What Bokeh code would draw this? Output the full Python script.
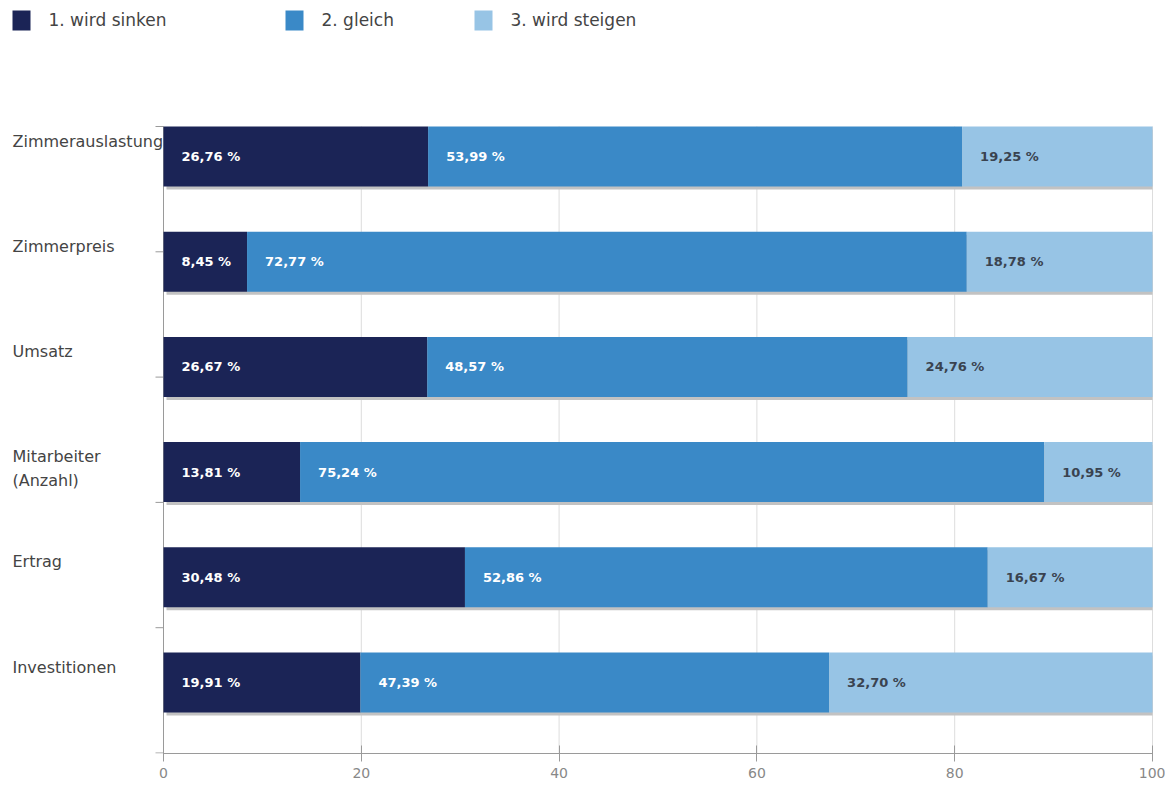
import numpy as np
from bokeh.plotting import figure
from bokeh.models import Range1d, FixedTicker
from bokeh.embed import file_html
from bokeh.resources import INLINE
from bokeh.core.properties import value

# ---------------- data ----------------
categories = ["Zimmerauslastung", "Zimmerpreis", "Umsatz",
              "Mitarbeiter\n(Anzahl)", "Ertrag", "Investitionen"]
series_names = ["1. wird sinken", "2. gleich", "3. wird steigen"]
sinken = [26.76, 8.45, 26.67, 13.81, 30.48, 19.91]
gleich = [53.99, 72.77, 48.57, 75.24, 52.86, 47.39]
steigen = [19.25, 18.78, 24.76, 10.95, 16.67, 32.70]
x_ticks = [0, 20, 40, 60, 80, 100]

# ---------------- style / layout (pixels) ----------------
colors = ["#1b2456", "#3a89c7", "#97c4e5"]
value_label_colors = ["#ffffff", "#ffffff", "#3a4350"]
FONT = "DejaVu Sans"
TEXT_GREY = "#444444"
AXIS_GREY = "#9a9a9a"
W, H = 1165, 784
PX_ZERO, PX_HUNDRED = 163, 1152      # x pixel of value 0 and 100
PY_ROW0, ROW_PX = 156, 105.2          # y pixel of first bar centre, row pitch
PY_PLOT_TOP, PY_AXIS = 126, 753       # top of plot area, x-axis line
BAR_PX = 60
PPU = (PX_HUNDRED - PX_ZERO) / 100.0


def dx(px):
    return (px - PX_ZERO) / PPU


def dy(py):
    return (py - PY_ROW0) / ROW_PX


n = len(categories)
rows = np.arange(n)
bar_h = BAR_PX / ROW_PX

p = figure(width=W, height=H,
           x_range=Range1d(dx(0), dx(W)), y_range=Range1d(dy(PY_AXIS), dy(0)),
           output_backend="svg", toolbar_location=None,
           min_border_left=0, min_border_right=0, min_border_top=0,
           min_border_bottom=H - PY_AXIS)
p.outline_line_color = None
p.grid.visible = False
p.yaxis.visible = False

# vertical grid lines
grid_x = x_ticks[1:]
p.segment(x0=grid_x, x1=grid_x, y0=[dy(PY_PLOT_TOP)] * len(grid_x),
          y1=[dy(PY_AXIS)] * len(grid_x), line_color="#dddddd", line_width=1)

# y axis line and its ticks
p.segment(x0=[0], x1=[0], y0=[dy(PY_PLOT_TOP)], y1=[dy(PY_AXIS)],
          line_color=AXIS_GREY, line_width=1)
ytick = np.linspace(dy(PY_PLOT_TOP), dy(PY_AXIS - 0.5), 6)
p.segment(x0=[dx(PX_ZERO - 8)] * 6, x1=[0] * 6, y0=ytick, y1=ytick,
          line_color=AXIS_GREY, line_width=1)

# shadow under each stacked bar
p.hbar(y=rows + 3 / ROW_PX, left=dx(PX_ZERO + 3), right=100, height=bar_h,
       fill_color="#c2c2c2", line_color=None)

series = [sinken, gleich, steigen]
left = np.zeros(n)
for vals, col, lcol in zip(series, colors, value_label_colors):
    vals = np.array(vals)
    right = left + vals
    p.hbar(y=rows, left=left, right=right, height=bar_h,
           fill_color=col, line_color=None)
    txt = [f"{v:.2f}".replace(".", ",") + " %" for v in vals]
    p.text(x=left + dx(PX_ZERO + 18), y=rows, text=txt,
           text_baseline="middle", text_align="left", text_color=lcol,
           text_font=value(FONT), text_font_size="13px", text_font_style="bold")
    left = right

# category labels at the left
p.text(x=[dx(12)] * n, y=rows - 25 / ROW_PX, text=categories,
       text_baseline="top", text_align="left", text_color=TEXT_GREY,
       text_font=value(FONT), text_font_size="16px", text_line_height=1.25)

# legend at the top
leg_px = [12, 285, 474]
leg_left = [dx(x) for x in leg_px]
leg_right = [dx(x + 18) for x in leg_px]
p.quad(left=leg_left, right=leg_right, top=[dy(10)] * 3, bottom=[dy(30)] * 3,
       fill_color=colors, line_color=None)
p.text(x=[dx(x + 36) for x in leg_px], y=[dy(19)] * 3, text=series_names,
       text_baseline="middle", text_align="left", text_color=TEXT_GREY,
       text_font=value(FONT), text_font_size="17px")

# x axis
xa = p.xaxis[0]
xa.bounds = (0, 100)
xa.ticker = FixedTicker(ticks=x_ticks)
xa.minor_tick_line_color = None
xa.major_tick_in = 8
xa.major_tick_out = 8
xa.axis_line_color = AXIS_GREY
xa.major_tick_line_color = AXIS_GREY
xa.major_label_text_color = "#888888"
xa.major_label_text_font = FONT
xa.major_label_text_font_size = "14px"
xa.major_label_standoff = 6

open("out.html", "w").write(file_html(p, INLINE))
